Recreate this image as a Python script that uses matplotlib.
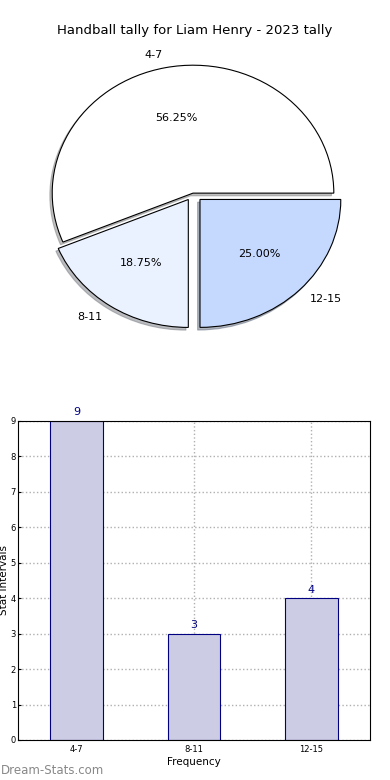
import matplotlib
matplotlib.use("Agg")
import matplotlib.pyplot as plt

# data
categories = ["4-7", "8-11", "12-15"]
counts = [9, 3, 4]
pie_colors = ["#ffffff", "#eaf1ff", "#c5d9fe"]
explode = [0, 0.06, 0.07]

fig = plt.figure(figsize=(3.9, 7.8), dpi=100)

# pie chart on top
ax1 = fig.add_axes([0.0436, 0.5474, 0.9026, 0.41])
wedges, texts, autotexts = ax1.pie(counts, labels=categories, colors=pie_colors,
                                   explode=explode, autopct="%1.2f%%",
                                   shadow={"ox": -0.012, "oy": -0.015, "shade": 0.5},
                                   startangle=0, labeldistance=1.1, pctdistance=0.6,
                                   wedgeprops={"edgecolor": "black", "linewidth": 0.8},
                                   textprops={"fontsize": 8})
ax1.set_aspect("auto")
ax1.set_xlim(-1.25, 1.25)
ax1.set_ylim(-1.25, 1.25)
fig.text(0.5, 0.961, "Handball tally for Liam Henry - 2023 tally", ha="center",
         va="center", fontsize=9.5)

# bar chart below
ax2 = fig.add_axes([0.046, 0.0513, 0.9026, 0.409])
x = range(len(categories))
ax2.bar(x, counts, width=0.45, color="#ccccE5", edgecolor="#000080", linewidth=0.8, zorder=2)
for i, v in zip(x, counts):
    ax2.text(i, v + 0.1, str(v), ha="center", va="bottom", color="#000080", fontsize=8)
ax2.set_xlim(-0.5, 2.5)
ax2.set_ylim(0, 9)
ax2.set_yticks(range(0, 10))
ax2.set_xticks(list(x))
ax2.set_xticklabels(categories)
ax2.tick_params(labelsize=6, length=2, direction="in")
ax2.tick_params(axis="y", pad=1.5)
ax2.grid(True, linestyle=":", color="#b0b0b0", linewidth=1, zorder=0)
ax2.set_axisbelow(True)
ax2.set_ylabel("Stat Intervals", fontsize=7.5)
ax2.yaxis.set_label_coords(-0.026, 0.5)
ax2.set_xlabel("Frequency", fontsize=7.5, labelpad=2)

fig.text(0.002, 0.012, "Dream-Stats.com", color="#888888", fontsize=8.5, ha="left", va="center")

fig.savefig("out.png", dpi=100)
